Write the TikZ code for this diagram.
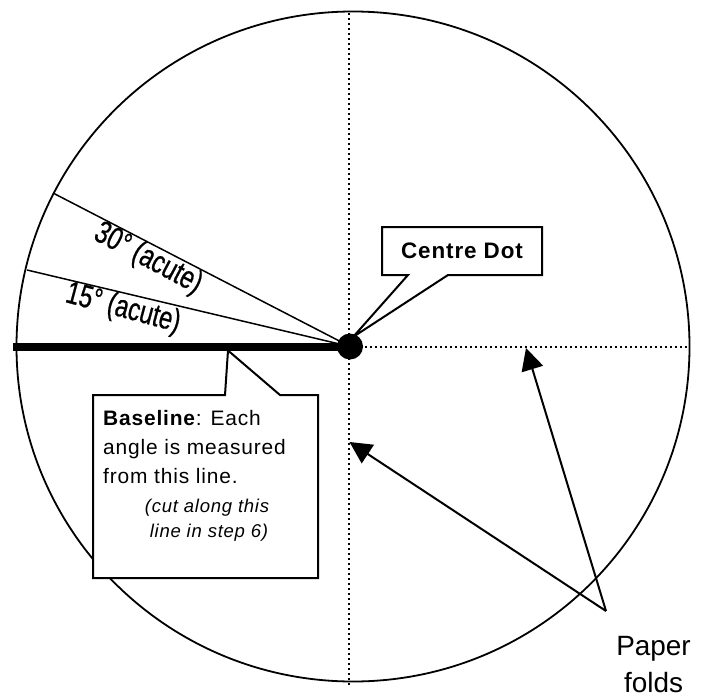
\documentclass[tikz,border=0pt]{standalone}
\usepackage{fontspec}
\setmainfont{Liberation Sans}
\newfontfamily\boxfont[LetterSpace=4]{Liberation Sans}
\newfontfamily\narrowfont[FakeStretch=0.75,FakeBold=0.6]{Liberation Sans}
\usetikzlibrary{arrows.meta}
\begin{document}
\begin{tikzpicture}[x=1bp,y=-1bp]
\useasboundingbox (0,0) rectangle (707,698);
\tikzset{
  foldline/.style={line width=2bp, dash pattern=on 2bp off 3bp},
  rayline/.style={line width=1.5bp},
  callout/.style={draw, fill=white, line width=2bp, line join=miter},
  pointer/.style={line width=2bp, -{Triangle[length=22bp,width=22bp]}},
  anglelabel/.style={inner sep=0pt, font=\narrowfont\fontsize{32}{34}\selectfont},
  boxtext/.style={inner sep=0pt, anchor=base west, font=\boxfont\fontsize{21}{24}\selectfont},
  notetext/.style={inner sep=0pt, anchor=base, font=\boxfont\itshape\fontsize{18.6}{22}\selectfont},
}
% coordinates
\coordinate (O) at (350,346.5);
\coordinate (C) at (353,346.5);
\coordinate (vtop) at (349,13);
\coordinate (vbot) at (349,686);
\coordinate (hend) at (688,346.5);
\coordinate (R30) at (53,193);
\coordinate (R15) at (27,270);
\coordinate (B0) at (13,346.5);
% circle (paper)
\draw[line width=1.8bp] (C) ellipse [x radius=336.5, y radius=335];
% folds
\draw[foldline] (vtop) -- (vbot);
\draw[foldline] (O) -- (hend);
% rays
\draw[rayline] (O) -- (R30);
\draw[rayline] (O) -- (R15);
% baseline
\draw[line width=8bp] (B0) -- (O);
% angle labels
\node[anglelabel, rotate=-28] (l30) at (148,259) {30° (acute)};
\node[anglelabel, rotate=-15] (l15) at (123,309) {15° (acute)};
% baseline callout
\draw[callout] (93,395) -- (225,395) -- (228,350.5) -- (280,395) -- (318,395)
  -- (318,578) -- (93,578) -- cycle;
\node[boxtext] (bt1) at (103,425) {\textbf{Baseline}: Each};
\node[boxtext] (bt2) at (103,454) {angle is measured};
\node[boxtext] (bt3) at (103,483) {from this line.};
\node[notetext] (bn1) at (207,512) {(cut along this};
\node[notetext] (bn2) at (209,537) {line in step 6)};
% centre dot callout
\draw[callout] (382,227) -- (542,227) -- (542,275) -- (448,275) -- (353,337)
  -- (408,275) -- (382,275) -- cycle;
\node[inner sep=0pt, font=\boxfont\bfseries\fontsize{22.5}{24}\selectfont] (cd) at (462,251) {Centre Dot};
% centre dot
\node[circle, fill, inner sep=0pt, minimum size=26bp] (dot) at (O) {};
% paper folds
\node[inner sep=0pt, anchor=base, font=\fontsize{28}{34}\selectfont] (pf1) at (653.5,655) {Paper};
\node[inner sep=0pt, anchor=base, font=\fontsize{28}{34}\selectfont] (pf2) at (653.5,692) {folds};
\coordinate (pfp) at (606,611);
\coordinate (a1) at (349.5,442);
\coordinate (a2) at (526,348);
\draw[pointer] (pfp) -- (a1);
\draw[pointer] (pfp) -- (a2);
\end{tikzpicture}
\end{document}
